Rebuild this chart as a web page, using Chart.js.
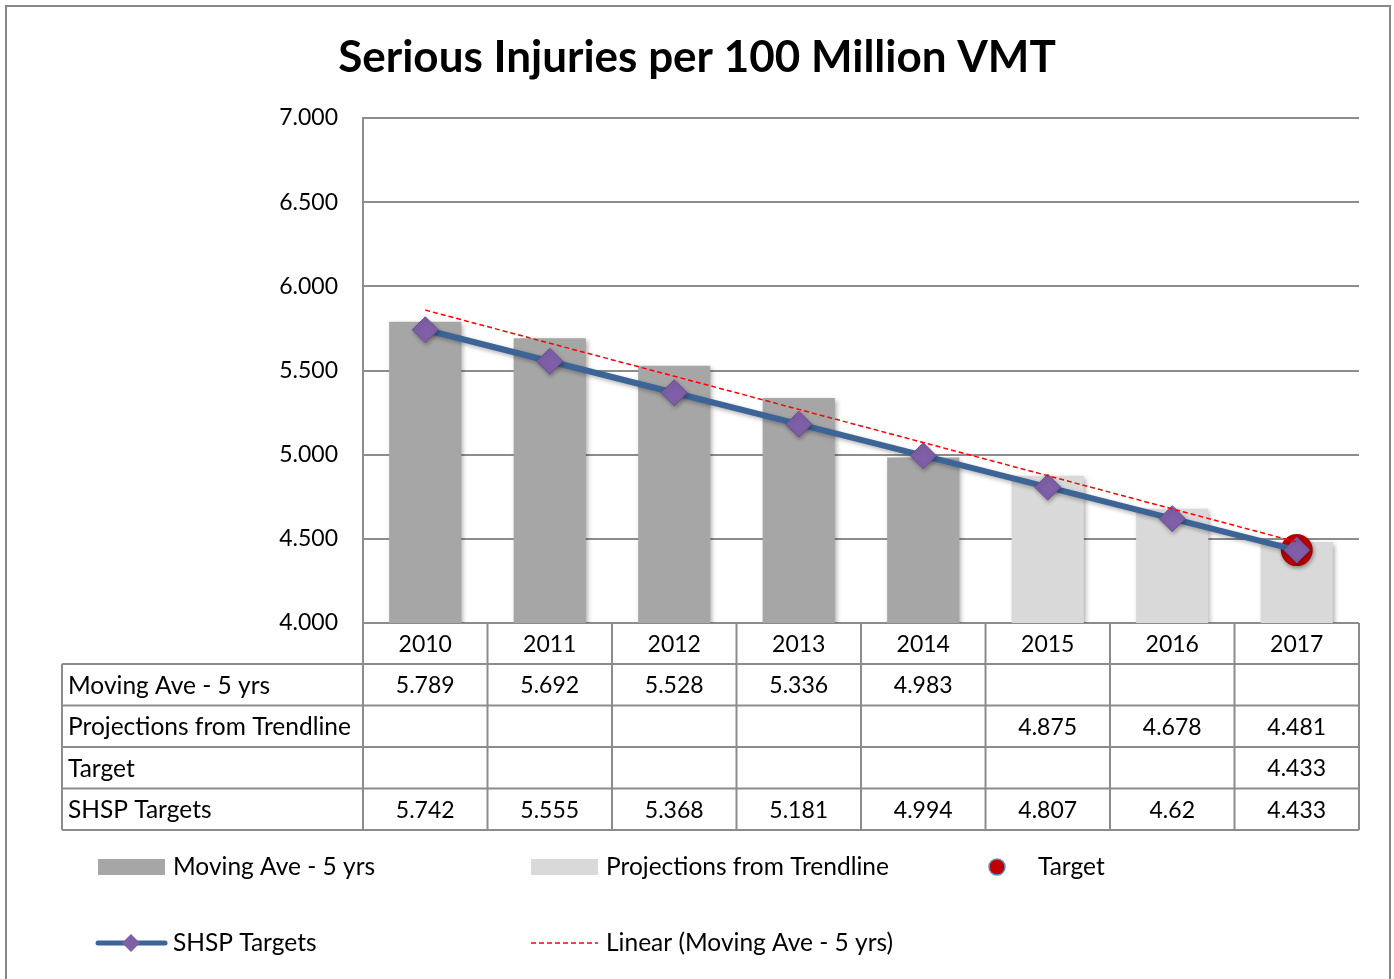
<!DOCTYPE html>
<html>
<head>
<meta charset="utf-8">
<script src="https://cdn.jsdelivr.net/npm/chart.js@4"></script>
<style>
  html, body { margin: 0; padding: 0; background: #fff; }
  #wrap { width: 1394px; height: 979px; }
</style>
</head>
<body>
<div id="wrap"><canvas id="myChart" width="1394" height="979"></canvas></div>
<script>
var years = ['2010', '2011', '2012', '2013', '2014', '2015', '2016', '2017'];
var movingAve = [5.789, 5.692, 5.528, 5.336, 4.983, null, null, null];
var projections = [null, null, null, null, null, 4.875, 4.678, 4.481];
var target = [null, null, null, null, null, null, null, 4.433];
var shspTargets = [5.742, 5.555, 5.368, 5.181, 4.994, 4.807, 4.62, 4.433];
var linearTrend = [5.859, 5.662, 5.466, 5.269, 5.072, 4.875, 4.678, 4.481];
var yTicks = [4.0, 4.5, 5.0, 5.5, 6.0, 6.5, 7.0];

var FONT = 'Lato, "Open Sans", sans-serif';
var GRID = '#8c8c8c';

var tableRows = [
	{ label: 'Moving Ave - 5 yrs', data: movingAve },
	{ label: 'Projections from Trendline', data: projections },
	{ label: 'Target', data: target },
	{ label: 'SHSP Targets', data: shspTargets }
];

// shadows for bars and diamonds
var shadowPlugin = {
	id: 'shadows',
	beforeDatasetDraw: function(chart, args) {
		var ctx = chart.ctx;
		ctx.save();
		if (args.index <= 1) {
			ctx.shadowColor = 'rgba(0,0,0,0.35)';
			ctx.shadowBlur = 5;
			ctx.shadowOffsetX = 2;
			ctx.shadowOffsetY = 2;
		} else if (args.index >= 3 && args.index <= 4) {
			ctx.shadowColor = 'rgba(0,0,0,0.3)';
			ctx.shadowBlur = 4;
			ctx.shadowOffsetX = 1;
			ctx.shadowOffsetY = 2;
		}
	},
	afterDatasetDraw: function(chart) {
		chart.ctx.restore();
	}
};

var framePlugin = {
	id: 'frame',
	afterDraw: function(chart) {
		var ctx = chart.ctx;
		var area = chart.chartArea;
		var x = chart.scales.x;
		ctx.save();

		// outer border
		ctx.strokeStyle = '#888';
		ctx.lineWidth = 2;
		ctx.strokeRect(6, 6, 1384, 1000);

		// title
		ctx.fillStyle = '#000';
		ctx.font = 'bold 44px ' + FONT;
		ctx.textAlign = 'center';
		ctx.textBaseline = 'middle';
		ctx.fillText('Serious Injuries per 100 Million VMT', 697, 58);

		// data table
		var half = (x.getPixelForValue(1) - x.getPixelForValue(0)) / 2;
		var left = 62;
		var top = area.bottom;
		var headH = 41;
		var rowH = 41.5;
		var bottom = top + headH + rowH * tableRows.length;
		ctx.strokeStyle = GRID;
		ctx.lineWidth = 2;
		ctx.beginPath();
		for (var i = 0; i < years.length; i++) {
			var bx = x.getPixelForValue(i) + half;
			ctx.moveTo(bx, top);
			ctx.lineTo(bx, bottom);
		}
		ctx.moveTo(area.left, top);
		ctx.lineTo(area.left, bottom);
		ctx.moveTo(left, top + headH);
		ctx.lineTo(left, bottom);
		for (var r = 0; r <= tableRows.length; r++) {
			var ly = top + headH + rowH * r;
			ctx.moveTo(left, ly);
			ctx.lineTo(area.right, ly);
		}
		ctx.stroke();

		ctx.fillStyle = '#000';
		ctx.textAlign = 'center';
		ctx.font = '23px ' + FONT;
		for (var j = 0; j < years.length; j++) {
			ctx.fillText(years[j], x.getPixelForValue(j), top + headH / 2 + 1);
		}
		for (var k = 0; k < tableRows.length; k++) {
			var cy = top + headH + rowH * k + rowH / 2 + 1;
			ctx.textAlign = 'left';
			ctx.font = '24.5px ' + FONT;
			ctx.fillText(tableRows[k].label, 68, cy);
			ctx.textAlign = 'center';
			ctx.font = '23px ' + FONT;
			tableRows[k].data.forEach(function(v, idx) {
				if (v !== null) ctx.fillText(String(v), x.getPixelForValue(idx), cy);
			});
		}

		// legend
		ctx.textAlign = 'left';
		var y1 = 867, y2 = 943;
		ctx.fillStyle = '#a6a6a6';
		ctx.fillRect(98, y1 - 8, 67, 16);
		ctx.fillStyle = '#d9d9d9';
		ctx.fillRect(531, y1 - 8, 67, 16);
		ctx.beginPath();
		ctx.arc(997, y1, 8, 0, Math.PI * 2);
		ctx.fillStyle = '#c00000';
		ctx.fill();
		ctx.strokeStyle = '#5b8bc4';
		ctx.lineWidth = 1.5;
		ctx.stroke();

		ctx.strokeStyle = '#3c6496';
		ctx.lineWidth = 5;
		ctx.lineCap = 'round';
		ctx.beginPath();
		ctx.moveTo(98, y2);
		ctx.lineTo(165, y2);
		ctx.stroke();
		ctx.fillStyle = '#7f60a8';
		ctx.beginPath();
		ctx.moveTo(131, y2 - 9);
		ctx.lineTo(140, y2);
		ctx.lineTo(131, y2 + 9);
		ctx.lineTo(122, y2);
		ctx.closePath();
		ctx.fill();

		ctx.strokeStyle = '#ff0000';
		ctx.lineWidth = 1.5;
		ctx.lineCap = 'butt';
		ctx.setLineDash([5, 3]);
		ctx.beginPath();
		ctx.moveTo(531, y2);
		ctx.lineTo(598, y2);
		ctx.stroke();
		ctx.setLineDash([]);

		ctx.fillStyle = '#000';
		ctx.font = '24.5px ' + FONT;
		ctx.fillText('Moving Ave - 5 yrs', 173, y1);
		ctx.fillText('Projections from Trendline', 606, y1);
		ctx.fillText('Target', 1038, y1);
		ctx.fillText('SHSP Targets', 173, y2);
		ctx.fillText('Linear (Moving Ave - 5 yrs)', 606, y2);

		ctx.restore();
	}
};

var ctx = document.getElementById('myChart');

var chart = new Chart(ctx, {
	data: {
		labels: years,
		datasets: [
			{
				type: 'bar',
				label: 'Moving Ave - 5 yrs',
				data: movingAve,
				backgroundColor: '#a6a6a6',
				barPercentage: 0.58,
				categoryPercentage: 1,
				grouped: false,
				order: 5
			},
			{
				type: 'bar',
				label: 'Projections from Trendline',
				data: projections,
				backgroundColor: '#d9d9d9',
				barPercentage: 0.58,
				categoryPercentage: 1,
				grouped: false,
				order: 4
			},
			{
				type: 'line',
				label: 'Linear (Moving Ave - 5 yrs)',
				data: linearTrend,
				borderColor: '#ff0000',
				borderWidth: 1.5,
				borderDash: [5, 3],
				pointRadius: 0,
				fill: false,
				order: 1
			},
			{
				type: 'line',
				label: 'Target',
				data: target,
				showLine: false,
				pointStyle: 'circle',
				pointRadius: 15,
				pointBackgroundColor: '#cc0000',
				pointBorderColor: '#b00000',
				pointBorderWidth: 2,
				order: 3
			},
			{
				type: 'line',
				label: 'SHSP Targets',
				data: shspTargets,
				borderColor: '#3c6496',
				borderWidth: 6,
				pointStyle: 'rectRot',
				pointRadius: 13,
				pointBackgroundColor: '#7f60a8',
				pointBorderColor: '#6c4f96',
				pointBorderWidth: 1,
				fill: false,
				order: 2
			}
		]
	},
	plugins: [shadowPlugin, framePlugin],
	options: {
		responsive: false,
		animation: false,
		events: [],
		layout: { padding: { left: 0, top: 118, right: 35, bottom: 356 } },
		plugins: {
			legend: { display: false },
			title: { display: false },
			tooltip: { enabled: false }
		},
		scales: {
			x: {
				display: false,
				offset: true
			},
			y: {
				min: 4,
				max: 7,
				afterFit: function(scale) { scale.width = 363; },
				afterBuildTicks: function(scale) {
					scale.ticks = yTicks.map(function(v) { return { value: v }; });
				},
				ticks: {
					padding: 25,
					color: '#000',
					font: { family: FONT, size: 23 },
					callback: function(v) { return Number(v).toFixed(3); }
				},
				grid: { color: GRID, lineWidth: 2, drawTicks: false },
				border: { color: GRID, width: 2 }
			}
		}
	}
});
</script>
</body>
</html>
